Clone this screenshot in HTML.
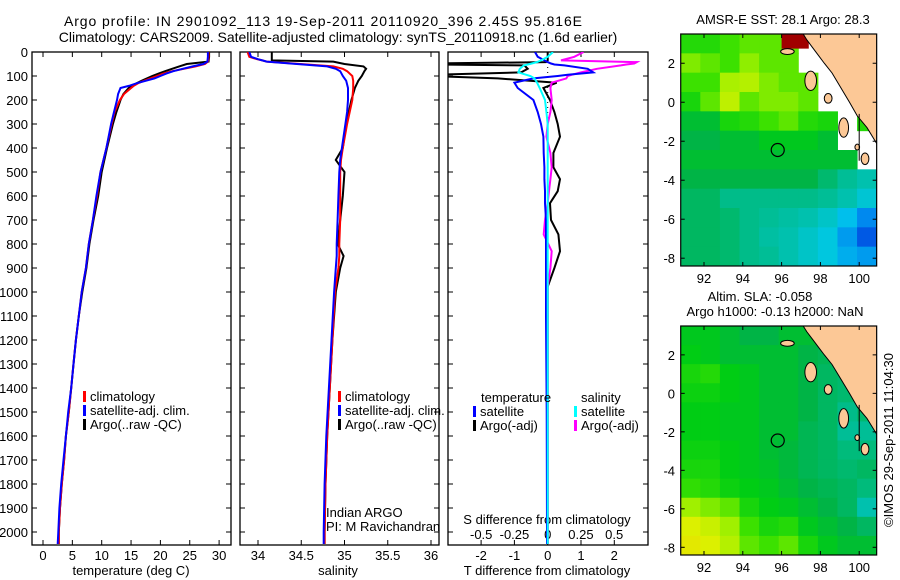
<!DOCTYPE html>
<html><head><meta charset="utf-8"><style>
html,body{margin:0;padding:0;background:#fff;}
svg{display:block;font-family:"Liberation Sans",sans-serif;}
text{font-size:13px;fill:#000;}
</style></head><body>
<svg id="chart" width="900" height="580" viewBox="0 0 900 580" xmlns="http://www.w3.org/2000/svg">
<text x="64" y="26" textLength="518" lengthAdjust="spacing" style="font-size:14px">Argo profile: IN 2901092_113 19-Sep-2011 20110920_396 2.45S 95.816E</text>
<text x="338" y="42" text-anchor="middle" style="font-size:14px">Climatology: CARS2009. Satellite-adjusted climatology: synTS_20110918.nc (1.6d earlier)</text>
<text x="131" y="575" text-anchor="middle">temperature (deg C)</text>
<text x="338" y="575" text-anchor="middle">salinity</text>
<text x="547" y="575" text-anchor="middle">T difference from climatology</text>
<text x="547" y="524" text-anchor="middle">S difference from climatology</text>
<text x="326" y="517">Indian ARGO</text>
<text x="326" y="531">PI: M Ravichandran</text>
<text x="783" y="24" text-anchor="middle">AMSR-E SST: 28.1 Argo: 28.3</text>
<text x="760" y="301" text-anchor="middle">Altim. SLA: -0.058</text>
<text x="775" y="316" text-anchor="middle">Argo h1000: -0.13 h2000: NaN</text>
<text transform="translate(893,440) rotate(-90)" text-anchor="middle">©IMOS 29-Sep-2011 11:04:30</text>
<g id="plots"></g>
</svg>
<script>
// ---------- data ----------
const tDepths=[0,20,40,50,60,70,80,90,100,110,120,130,140,150,175,200,250,300,400,500,600,700,800,900,1000,1100,1200,1300,1400,1500,1600,1700,1800,1900,2000,2050];
const tClim=[28.2,28.2,28.1,27.6,26,24,22,20.5,19.4,18.3,17.2,16.2,15.5,15.0,13.8,13.1,12.2,11.7,10.8,9.8,9.2,8.5,7.8,7.3,6.6,6.1,5.6,5.2,4.8,4.4,3.9,3.6,3.2,2.9,2.7,2.7];
const tSat=[28.1,28.1,28.0,27.3,25.5,23.8,22.2,21,20,19,17.5,16,14.8,13.2,12.8,12.6,12.1,11.6,10.8,9.8,9.1,8.5,7.8,7.3,6.6,6.1,5.6,5.2,4.8,4.3,3.9,3.5,3.1,2.8,2.6,2.5];
const tArgo=[28.3,28.3,28.2,24.5,23.2,22,20.8,19.7,18.6,17.7,16.8,16,15.2,14.6,13.7,13.2,12.5,11.9,10.9,10.0,9.4,8.6,7.9,7.4,6.7,6.1,5.6,5.2,4.8,4.4,3.9,3.6,3.2,2.9,2.7,2.7];
const sDepths=[0,20,30,35,40,50,60,70,80,100,120,150,200,250,300,400,450,500,600,700,800,850,900,1000,1200,1400,1600,1800,2000,2050];
const sClim=[33.88,33.9,33.99,34.05,34.1,34.49,34.87,34.98,35.03,35.09,35.1,35.1,35.09,35.06,35.03,34.98,34.96,34.95,34.95,34.95,34.94,34.94,34.93,34.89,34.86,34.83,34.8,34.78,34.77,34.77];
const sSat=[33.9,33.92,34.0,34.05,34.1,34.45,34.8,34.9,34.95,34.98,35.02,35.04,35.04,35.03,35.01,34.97,34.95,34.94,34.93,34.92,34.91,34.91,34.9,34.88,34.85,34.82,34.79,34.77,34.76,34.76];
const sArgo=[34.16,34.16,34.16,34.16,34.87,35.0,35.22,35.25,35.23,35.2,35.16,35.12,35.08,35.05,35.02,34.98,34.9,35.0,34.98,34.95,34.92,34.99,34.95,34.9,34.86,34.83,34.8,34.78,34.77,34.77];
const dDepths=[0,20,35,42,48,52,56,70,85,95,100,110,128,150,200,250,300,353,421,480,530,580,630,700,760,830,900,978,1100,1500,2000,2050];
const dTArgo=[0,0,0,-0.05,-3.5,-3.5,-0.7,-0.6,-0.8,-3.5,-3.5,-1.5,0.27,-0.13,0.07,0.2,0.3,0.37,0.17,0.17,0.37,0.3,0.07,0.1,0.32,0.37,0.2,0,0,0,0,0];
const dTSat=[-0.38,-0.3,-0.1,0,0.1,0.2,0.5,1.2,1.37,0.6,0.3,-0.43,-1.0,-0.9,-0.43,-0.3,-0.2,-0.13,-0.12,-0.1,-0.1,-0.08,-0.08,-0.05,-0.05,-0.05,-0.05,-0.05,-0.05,-0.03,-0.02,-0.02];
const dSSat=[0.04,0,-0.05,-0.08,-0.12,-0.15,-0.18,-0.21,-0.22,-0.16,-0.13,-0.1,-0.08,-0.06,-0.02,-0.01,0,0,0,0,0,0,0,0,0,0,0,0,0,0,0,0];
const dSArgo=[0.27,0.2,0.1,0.67,0.65,0.59,0.55,0.37,0.25,0.18,0.15,0.14,0.03,0.02,0.03,0.02,0,-0.01,0.02,0.03,0.02,0.01,0,-0.02,-0.03,0.03,0.02,0,0,0,0,0];
const depthTicks=[0,100,200,300,400,500,600,700,800,900,1000,1100,1200,1300,1400,1500,1600,1700,1800,1900,2000];
const tempTicks=[0,5,10,15,20,25,30];
const salTicks=[34,34.5,35,35.5,36];
const tdTicks=[-2,-1,0,1,2];
const sdTicks=[-0.5,-0.25,0,0.25,0.5];
const sdTickLabels=["-0.5","-0.25","0","0.25","0.5"];
const lonTicks=[92,94,96,98,100];
const latTicks=[2,0,-2,-4,-6,-8];
const sstGrid=[
[.56,.56,.58,.6,.6,.6,-1,-1,-1,-1],
[.62,.6,.58,.63,.6,.6,-1,-1,-1,-1],
[.58,.58,.65,.66,.62,.6,.6,-1,-1,-1],
[.55,.6,.67,.6,.62,.62,.6,-1,-1,-1],
[.5,.5,.55,.56,.58,.6,.56,.55,-1,.56],
[.48,.48,.5,.5,.52,.52,.52,.5,-1,-1],
[.5,.5,.5,.5,.5,.5,.5,.5,.5,-1],
[.48,.48,.48,.48,.48,.48,.48,.45,.42,.4],
[.46,.46,.43,.43,.43,.43,.43,.42,.4,.37],
[.46,.46,.45,.43,.42,.41,.4,.38,.34,.28],
[.46,.46,.45,.43,.41,.4,.38,.36,.3,.22],
[.46,.46,.45,.43,.42,.4,.38,.36,.32,.3]];
const slaGrid=[
[.52,.52,.5,.48,.48,.5,.5,.48,.5,.5],
[.53,.52,.5,.5,.5,.5,.48,.47,.46,.5],
[.55,.56,.53,.52,.5,.5,.48,.46,.45,.5],
[.54,.54,.53,.52,.5,.5,.48,.46,.45,.45],
[.53,.53,.52,.52,.5,.5,.48,.46,.43,.45],
[.53,.53,.52,.52,.5,.5,.47,.46,.42,.42],
[.54,.54,.53,.52,.5,.49,.47,.46,.44,.44],
[.55,.55,.53,.52,.51,.49,.47,.46,.45,.46],
[.57,.56,.54,.53,.52,.5,.48,.47,.46,.44],
[.64,.62,.6,.55,.53,.52,.5,.48,.46,.4],
[.7,.68,.64,.58,.55,.56,.52,.5,.48,.46],
[.72,.7,.66,.6,.58,.6,.55,.52,.5,.5]];
const argoLon=95.8, argoLat=-2.45;

// ---------- helpers ----------
const NS="http://www.w3.org/2000/svg";
const root=document.getElementById('plots');
function mk(tag,attrs,parent){const e=document.createElementNS(NS,tag);for(const k in attrs)e.setAttribute(k,attrs[k]);(parent||root).appendChild(e);return e;}
const Y0=52,Y1=545;
const yD=d=>Y0+0.24*d;
const xT=v=>43+5.87*v;
const xS=v=>258+86.5*(v-34);
const xdT=v=>547.7+33.3*v;
const xdS=v=>547.7+133*v;

const panels=[{x0:32,x1:231,name:'temperature-panel'},{x0:240,x1:439,name:'salinity-panel'},{x0:448,x1:648,name:'difference-panel'}];
panels.forEach((p,i)=>{
  const cp=mk('clipPath',{id:'clip'+i});
  mk('rect',{x:p.x0,y:Y0,width:p.x1-p.x0,height:Y1-Y0},cp);
  const r=mk('rect',{x:p.x0,y:Y0,width:p.x1-p.x0,height:Y1-Y0,fill:'none',stroke:'#000','stroke-width':1.3});
  
  
  depthTicks.forEach(d=>{
    mk('line',{x1:p.x0,x2:p.x0+5,y1:yD(d),y2:yD(d),stroke:'#000'});
    mk('line',{x1:p.x1-5,x2:p.x1,y1:yD(d),y2:yD(d),stroke:'#000'});
  });
});
depthTicks.forEach(d=>{
  const t=mk('text',{x:28,y:yD(d)+5,'text-anchor':'end'});t.textContent=d;
  
  
});
function xTicks(vals,fx,labels,p,ly){
  vals.forEach((v,i)=>{
    const x=fx(v);
    mk('line',{x1:x,x2:x,y1:Y0,y2:Y0+5,stroke:'#000'});
    mk('line',{x1:x,x2:x,y1:Y1-5,y2:Y1,stroke:'#000'});
    const t=mk('text',{x:x,y:ly,'text-anchor':'middle'});t.textContent=labels[i];
    
    
  });
}
xTicks(tempTicks,xT,tempTicks.map(String),0,560);
xTicks(salTicks,xS,salTicks.map(String),1,560);
xTicks(tdTicks,xdT,tdTicks.map(String),2,560);
sdTicks.forEach((v,i)=>{
  const t=mk('text',{x:xdS(v),y:539,'text-anchor':'middle'});t.textContent=sdTickLabels[i];
  
  
});
mk('line',{x1:547.7,x2:547.7,y1:Y0,y2:300,stroke:'#000','stroke-dasharray':'1,4'});

function series(depths,vals,fx,color,clip,name,w){
  const pts=depths.map((d,i)=>fx(vals[i]).toFixed(1)+','+yD(d).toFixed(1)).join(' ');
  const pl=mk('polyline',{points:pts,fill:'none',stroke:color,'stroke-width':w||2,'clip-path':'url(#clip'+clip+')','stroke-linejoin':'miter'});
  
  
}
series(tDepths,tArgo,xT,'#000',0,'temp-argo-line');
series(tDepths,tClim,xT,'#f00',0,'temp-climatology-line');
series(tDepths,tSat,xT,'#00f',0,'temp-satellite-line');
series(sDepths,sArgo,xS,'#000',1,'sal-argo-line');
series(sDepths,sClim,xS,'#f00',1,'sal-climatology-line');
series(sDepths,sSat,xS,'#00f',1,'sal-satellite-line');
series(dDepths,dTArgo,xdT,'#000',2,'tdiff-argo-line');
series(dDepths,dSArgo,xdS,'#f0f',2,'sdiff-argo-line');
series(dDepths,dTSat,xdT,'#00f',2,'tdiff-satellite-line');
series(dDepths,dSSat,xdS,'#0ff',2,'sdiff-satellite-line');

function legend(x,y,color,label,name){
  const g=mk('g',{});
  
  
  mk('rect',{x:x,y:y-10,width:3,height:11,fill:color},g);
  const t=mk('text',{x:x+7,y:y},g);t.textContent=label;
}
legend(83,401,'#f00','climatology','legend-climatology');
legend(83,415,'#00f','satellite-adj. clim.','legend-satellite-adj');
legend(83,429,'#000','Argo(..raw -QC)','legend-argo');
legend(338,401,'#f00','climatology','legend-sal-climatology');
legend(338,415,'#00f','satellite-adj. clim.','legend-sal-satellite-adj');
legend(338,429,'#000','Argo(..raw -QC)','legend-sal-argo');
{const t=mk('text',{x:481,y:402});t.textContent='temperature';}
{const t=mk('text',{x:581,y:402});t.textContent='salinity';}
legend(473,416,'#00f','satellite','legend-t-satellite');
legend(473,430,'#000','Argo(-adj)','legend-t-argo');
legend(574,416,'#0ff','satellite','legend-s-satellite');
legend(574,430,'#f0f','Argo(-adj)','legend-s-argo');

// ---------- maps ----------
const cstops=[[0.15,[0,40,200]],[0.25,[0,110,240]],[0.35,[0,200,235]],[0.42,[0,190,150]],[0.48,[0,180,70]],[0.53,[0,205,20]],[0.58,[60,225,0]],[0.64,[160,240,0]],[0.7,[220,240,0]],[0.8,[255,200,0]]];
function cmap(v){
  if(v<=cstops[0][0])return 'rgb('+cstops[0][1]+')';
  for(let i=1;i<cstops.length;i++){
    if(v<=cstops[i][0]){const a=cstops[i-1],b=cstops[i],f=(v-a[0])/(b[0]-a[0]);
      return 'rgb('+a[1].map((c,k)=>Math.round(c+(b[1][k]-c)*f)).join(',')+')';}
  }
  return 'rgb('+cstops[cstops.length-1][1]+')';
}
const sumatra=[[97.05,3.6],[97.3,3.2],[97.6,2.8],[97.9,2.4],[98.2,2.0],[98.6,1.5],[98.9,1.0],[99.2,0.5],[99.5,0],[99.9,-0.7],[100.4,-1.3],[100.95,-2.2],[100.95,3.6]];
const islands=[[96.3,2.6,0.35,0.15],[97.5,1.1,0.3,0.5],[98.4,0.2,0.2,0.25],[99.2,-1.3,0.25,0.5],[99.9,-2.3,0.12,0.15],[100.3,-2.9,0.2,0.3]];
function drawMap(idx,yTop,yBot,grid,name,extra){
  const lonA=90.8,lonB=100.9,latA=3.5,latB=-8.4;
  const xL=lon=>704+(lon-92)*19.4;
  const latY=lat=>yTop+(latA-lat)*(yBot-yTop)/(latA-latB);
  const g=mk('g',{});
  
  
  const cp=mk('clipPath',{id:'mclip'+idx});
  mk('rect',{x:xL(lonA),y:yTop,width:xL(lonB)-xL(lonA),height:yBot-yTop},cp);
  const cg=mk('g',{'clip-path':'url(#mclip'+idx+')'},g);
  mk('rect',{x:xL(lonA),y:yTop,width:xL(lonB)-xL(lonA),height:yBot-yTop,fill:'#fff'},cg);
  const nR=grid.length,nC=grid[0].length,dLon=(lonB-lonA)/nC,dLat=(latA-latB)/nR;
  grid.forEach((row,r)=>row.forEach((v,c)=>{
    if(v<0)return;
    const x=xL(lonA+c*dLon),y=latY(latA-r*dLat);
    const cell=mk('rect',{x:x,y:y,width:xL(lonA+(c+1)*dLon)-x+0.5,height:latY(latA-(r+1)*dLat)-y+0.5,fill:cmap(v)},cg);
    
    
  }));
  if(extra)extra(cg,xL,latY);
  mk('polygon',{points:sumatra.map(p=>xL(p[0])+','+latY(p[1])).join(' '),fill:'#fcc896',stroke:'#000','stroke-width':1},cg);
  islands.forEach(s=>mk('ellipse',{cx:xL(s[0]),cy:latY(s[1]),rx:s[2]*19.4,ry:s[3]*19.4,fill:'#fcc896',stroke:'#000'},cg));
  mk('line',{x1:xL(100),x2:xL(100),y1:latY(-0.6),y2:latY(-3),stroke:'#000'},cg);
  const c=mk('circle',{cx:xL(argoLon),cy:latY(argoLat),r:6.5,fill:'none',stroke:'#000','stroke-width':1.2},g);
  
  
  mk('rect',{x:xL(lonA),y:yTop,width:xL(lonB)-xL(lonA),height:yBot-yTop,fill:'none',stroke:'#000','stroke-width':1.2},g);
  lonTicks.forEach(l=>{
    mk('line',{x1:xL(l),x2:xL(l),y1:yBot,y2:yBot-4,stroke:'#000'},g);
    mk('line',{x1:xL(l),x2:xL(l),y1:yTop,y2:yTop+4,stroke:'#000'},g);
    const t=mk('text',{x:xL(l),y:yBot+17,'text-anchor':'middle'},g);t.textContent=l;
  });
  latTicks.forEach(l=>{
    mk('line',{x1:xL(lonA),x2:xL(lonA)+4,y1:latY(l),y2:latY(l),stroke:'#000'},g);
    mk('line',{x1:xL(lonB)-4,x2:xL(lonB),y1:latY(l),y2:latY(l),stroke:'#000'},g);
    const t=mk('text',{x:675,y:latY(l)+5,'text-anchor':'end'},g);t.textContent=l;
  });
}
drawMap(0,34,266,sstGrid,'sst-map',(cg,xL,latY)=>{
  mk('rect',{x:xL(96),y:latY(3.6),width:xL(97.4)-xL(96),height:latY(2.75)-latY(3.6),fill:'#a00000'},cg);
  mk('rect',{x:xL(99.6),y:latY(3.6),width:xL(101)-xL(99.6),height:latY(2.9)-latY(3.6),fill:'#a00000'},cg);
});
drawMap(1,326,555,slaGrid,'sla-map');
</script>
</body></html>
